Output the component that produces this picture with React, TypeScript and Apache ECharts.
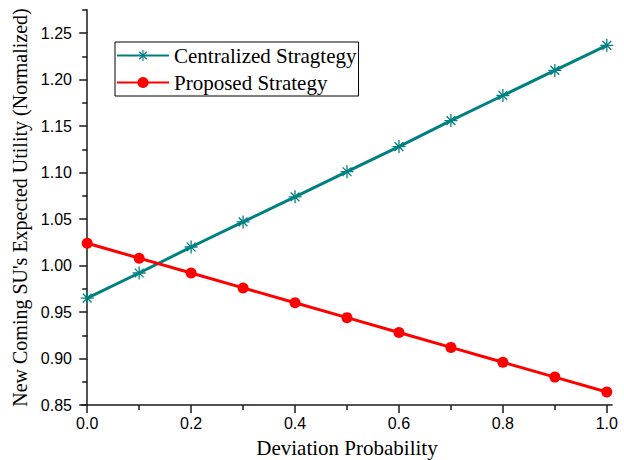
import React, { useEffect, useRef } from "react";
import * as echarts from "echarts";

const xValues = [0.0, 0.1, 0.2, 0.3, 0.4, 0.5, 0.6, 0.7, 0.8, 0.9, 1.0];
const centralized = [0.965, 0.992, 1.02, 1.047, 1.074, 1.101, 1.128, 1.156, 1.183, 1.21, 1.237];
const proposed = [1.024, 1.008, 0.992, 0.976, 0.96, 0.944, 0.928, 0.912, 0.896, 0.88, 0.864];
const xMajorTicks = [0.0, 0.2, 0.4, 0.6, 0.8, 1.0];
const xMinorTicks = [0.1, 0.3, 0.5, 0.7, 0.9];
const yMajorTicks = [0.85, 0.9, 0.95, 1.0, 1.05, 1.1, 1.15, 1.2, 1.25];
const yMinorTicks = [0.875, 0.925, 0.975, 1.025, 1.075, 1.125, 1.175, 1.225, 1.275];
const seriesNames = ["Centralized Stragtegy", "Proposed Strategy"];

const ASTERISK =
  "path://M10.8 0 L13.2 0 L13.2 24 L10.8 24 Z M0 10.8 L24 10.8 L24 13.2 L0 13.2 Z M3.1 4.8 L4.8 3.1 L20.9 19.2 L19.2 20.9 Z M19.2 3.1 L20.9 4.8 L4.8 20.9 L3.1 19.2 Z";

const TEAL = "#008080";
const RED = "#ff0000";
const AXIS_COLOR = "#1a1a1a";

export default function App() {
  const ref = useRef<HTMLDivElement>(null);
  useEffect(() => {
    if (!ref.current) return;
    const chart = echarts.init(ref.current, null, { renderer: "svg" });
    const xMin = -0.01;
    const xMax = 1.01;
    const yMin = 0.85;
    const yMax = 1.275;
    const baseX = {
      type: "value" as const,
      min: xMin,
      max: xMax,
      position: "bottom" as const,
      splitLine: { show: false },
    };
    const baseY = {
      type: "value" as const,
      min: yMin,
      max: yMax,
      position: "left" as const,
      splitLine: { show: false },
    };
    chart.setOption({
      animation: false,
      backgroundColor: "#fff",
      grid: {
        left: 82,
        right: 12,
        top: 10,
        bottom: 55,
        containLabel: false,
        outerBoundsMode: "none",
      },
      legend: {
        orient: "vertical",
        left: 115,
        top: 42,
        data: seriesNames,
        itemWidth: 52,
        itemHeight: 14,
        itemGap: 6,
        padding: [3, 2, 3, 1],
        borderColor: "#000",
        borderWidth: 1,
        backgroundColor: "#fff",
        textStyle: { fontFamily: "Liberation Serif", fontSize: 21, color: "#000" },
      },
      xAxis: [
        {
          ...baseX,
          name: "Deviation Probability",
          nameLocation: "middle",
          nameGap: 32,
          nameTextStyle: { fontFamily: "Liberation Serif", fontSize: 21, color: "#000" },
          axisLine: { show: true, lineStyle: { color: AXIS_COLOR, width: 1.5 } },
          axisTick: {
            show: true,
            inside: false,
            length: 8,
            customValues: xMajorTicks,
            lineStyle: { color: AXIS_COLOR, width: 1.5 },
          },
          axisLabel: {
            customValues: xMajorTicks,
            formatter: (v: number) => v.toFixed(1),
            fontFamily: "Liberation Sans",
            fontSize: 16,
            color: "#000",
            margin: 10,
          },
        },
        {
          ...baseX,
          axisLine: { show: false },
          axisTick: {
            show: true,
            inside: false,
            length: 5,
            customValues: xMinorTicks,
            lineStyle: { color: AXIS_COLOR, width: 1.5 },
          },
          axisLabel: { show: false },
        },
      ],
      yAxis: [
        {
          ...baseY,
          name: "New Coming SU's Expected Utility (Normalized)",
          nameLocation: "middle",
          nameGap: 49,
          nameTextStyle: { fontFamily: "Liberation Serif", fontSize: 20, color: "#000" },
          axisLine: { show: true, lineStyle: { color: AXIS_COLOR, width: 1.5 } },
          axisTick: {
            show: true,
            inside: false,
            length: 8,
            customValues: yMajorTicks,
            lineStyle: { color: AXIS_COLOR, width: 1.5 },
          },
          axisLabel: {
            customValues: yMajorTicks,
            formatter: (v: number) => v.toFixed(2),
            fontFamily: "Liberation Sans",
            fontSize: 16,
            color: "#000",
            margin: 10,
          },
        },
        {
          ...baseY,
          axisLine: { show: false },
          axisTick: {
            show: true,
            inside: false,
            length: 5,
            customValues: yMinorTicks,
            lineStyle: { color: AXIS_COLOR, width: 1.5 },
          },
          axisLabel: { show: false },
        },
      ],
      series: [
        {
          name: seriesNames[0],
          type: "line",
          xAxisIndex: 0,
          yAxisIndex: 0,
          data: xValues.map((x, i) => [x, centralized[i]]),
          symbol: ASTERISK,
          symbolSize: 13,
          lineStyle: { color: TEAL, width: 3 },
          itemStyle: { color: TEAL },
        },
        {
          name: seriesNames[1],
          type: "line",
          xAxisIndex: 0,
          yAxisIndex: 0,
          data: xValues.map((x, i) => [x, proposed[i]]),
          symbol: "circle",
          symbolSize: 11,
          lineStyle: { color: RED, width: 3 },
          itemStyle: { color: RED },
        },
      ],
    });
    return () => chart.dispose();
  }, []);
  return (
    <div
      ref={ref}
      style={{ position: "fixed", left: 0, top: 0, width: 624, height: 460 }}
    />
  );
}
